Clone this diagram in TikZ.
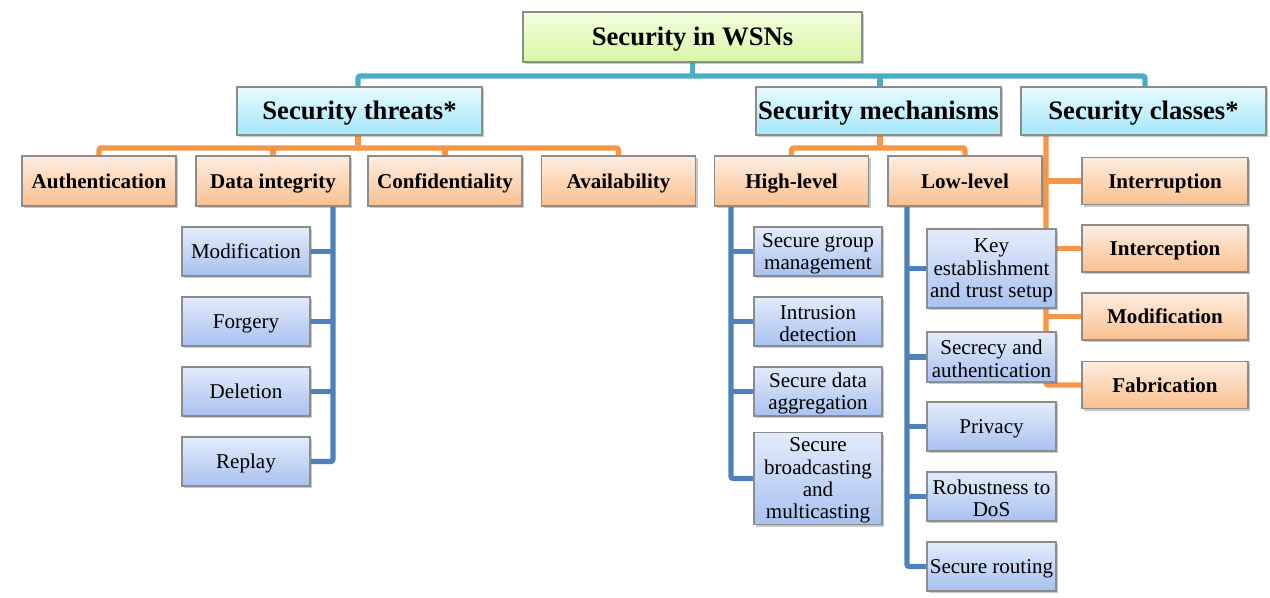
\documentclass[tikz,border=0pt]{standalone}
\usepackage{fontspec}
\setmainfont{Liberation Serif}
\usetikzlibrary{shadows,backgrounds}
\definecolor{busteal}{HTML}{4BACC6}
\definecolor{busorange}{HTML}{F79646}
\definecolor{busblue}{HTML}{4F81BD}
\definecolor{rootT}{HTML}{F3FFDD}
\definecolor{rootB}{HTML}{D8F6A6}
\definecolor{cyanT}{HTML}{E8FBFF}
\definecolor{cyanB}{HTML}{A4E7FA}
\definecolor{orT}{HTML}{FEEDE0}
\definecolor{orB}{HTML}{FAC08F}
\definecolor{blT}{HTML}{E3ECFB}
\definecolor{blB}{HTML}{A8C1F0}
\definecolor{edgegray}{HTML}{8C8C8C}
\newcommand\tstrut{\rule{0pt}{13.5pt}}
\tikzset{
  basebox/.style={draw=edgegray, line width=0.8pt, inner sep=1pt, align=center,
    drop shadow={shadow xshift=1.6pt, shadow yshift=-1.8pt, opacity=0.35, fill=black!60}},
  rootbox/.style={basebox, top color=rootT, bottom color=rootB,
    font=\fontsize{20}{22}\selectfont\bfseries, text height=15pt, text depth=2.5pt},
  lvlbox/.style={basebox, top color=cyanT, bottom color=cyanB,
    font=\fontsize{20}{22}\selectfont\bfseries, text height=15pt, text depth=2.5pt},
  orbox/.style={basebox, top color=orT, bottom color=orB,
    font=\fontsize{15.8}{18}\selectfont\bfseries, text height=12pt, text depth=1.5pt},
  blbox/.style={basebox, top color=blT, bottom color=blB,
    font=\fontsize{15.8}{16.8}\selectfont},
  oneline/.style={text height=12pt, text depth=1.5pt},
  tealline/.style={draw=busteal, line width=3.8pt, rounded corners=1.5pt},
  orline/.style={draw=busorange, line width=3.8pt, rounded corners=1.5pt},
  blline/.style={draw=busblue, line width=3.8pt, rounded corners=1.5pt}
}
\begin{document}
\begin{tikzpicture}[x=0.75pt,y=-0.75pt]
\useasboundingbox (0,0) rectangle (1270,597);

% level 0 and 1
\node[rootbox, minimum width=339*0.75pt, minimum height=50*0.75pt] (root) at (692.5,37) {Security in WSNs};
\node[lvlbox, minimum width=245*0.75pt, minimum height=48*0.75pt] (threats) at (359.5,111) {Security threats*};
\node[lvlbox, minimum width=245*0.75pt, minimum height=48*0.75pt] (mech) at (878.5,111) {Security mechanisms};
\node[lvlbox, minimum width=245*0.75pt, minimum height=48*0.75pt] (classes) at (1143.5,111) {Security classes*};

% level 2
\tikzset{orsize/.style={minimum width=154*0.75pt, minimum height=50*0.75pt}}
\node[orbox, orsize] (auth) at (99,181) {Authentication};
\node[orbox, orsize] (dint) at (273,181) {Data integrity};
\node[orbox, orsize] (conf) at (445,181) {Confidentiality};
\node[orbox, orsize] (avail) at (618.5,181) {Availability};
\node[orbox, orsize] (high) at (791.5,181) {High-level};
\node[orbox, orsize] (low) at (965,181) {Low-level};

\tikzset{clsize/.style={minimum width=166*0.75pt, minimum height=47*0.75pt}}
\node[orbox, clsize] (interr) at (1165,181) {Interruption};
\node[orbox, clsize] (intercp) at (1165,248.5) {Interception};
\node[orbox, clsize] (modc) at (1165,316.5) {Modification};
\node[orbox, clsize] (fabr) at (1165,385) {Fabrication};

% data integrity children
\tikzset{dsize/.style={minimum width=128*0.75pt, minimum height=49*0.75pt}}
\node[blbox, dsize, oneline] (mod) at (246,251.5) {Modification};
\node[blbox, dsize, oneline] (forg) at (246,321.5) {Forgery};
\node[blbox, dsize, oneline] (del) at (246,391.5) {Deletion};
\node[blbox, dsize, oneline] (rep) at (246,461.5) {Replay};

% high-level children
\node[blbox, dsize] (sgm) at (818,251.5) {\tstrut Secure group\\management};
\node[blbox, dsize] (ids) at (818,321.5) {\tstrut Intrusion\\detection};
\node[blbox, dsize] (sda) at (818,391.5) {\tstrut Secure data\\aggregation};
\node[blbox, minimum width=128*0.75pt, minimum height=83*0.75pt] (sbm) at (818,478.5) {\tstrut Secure\\broadcasting\\and\\multicasting};

% low-level children
\tikzset{lsize/.style={minimum width=129*0.75pt, minimum height=49*0.75pt}}
\node[blbox, minimum width=129*0.75pt, minimum height=79*0.75pt] (key) at (991.5,268.5) {\tstrut Key\\establishment\\and trust setup};
\node[blbox, lsize, minimum height=50*0.75pt] (secr) at (991.5,357) {\tstrut Secrecy and\\authentication};
\node[blbox, lsize, oneline] (priv) at (991.5,426.5) {Privacy};
\node[blbox, lsize] (dos) at (991.5,496.5) {\tstrut Robustness to\\DoS};
\node[blbox, lsize, oneline] (srout) at (991.5,566.5) {Secure routing};

% connectors
\begin{scope}[on background layer]
\fill[white] (0,0) rectangle (1270,597);
\coordinate (tbus) at (0,76);
\coordinate (obus) at (0,148);
\coordinate (tdrop) at (358,0);
\coordinate (mdrop) at (880,0);
\coordinate (cdrop) at (1145,0);
\path[tealline] (tdrop |- threats.north) -- (tdrop |- tbus) -- (cdrop |- tbus) -- (cdrop |- classes.north);
\path[tealline] (root.south) -- (root.south |- tbus);
\path[tealline] (mdrop |- tbus) -- (mdrop |- mech.north);

\path[orline] (auth.north) -- (auth.north |- obus) -- (avail.north |- obus) -- (avail.north);
\path[orline] (tdrop |- threats.south) -- (tdrop |- obus);
\path[orline] (dint.north) -- (dint.north |- obus);
\path[orline] (conf.north) -- (conf.north |- obus);

\path[orline] (high.north) -- (high.north |- obus) -- (low.north |- obus) -- (low.north);
\path[orline] (mdrop |- mech.south) -- (mdrop |- obus);

\coordinate (cv) at (1046,0);
\path[orline] (cv |- classes.south) -- (cv |- fabr.west) -- (fabr.west);
\path[orline] (cv |- interr.west) -- (interr.west);
\path[orline] (cv |- intercp.west) -- (intercp.west);
\path[orline] (cv |- modc.west) -- (modc.west);

\coordinate (dv) at (333,0);
\path[blline] (dv |- dint.south) -- (dv |- rep.east) -- (rep.east);
\path[blline] (mod.east) -- (mod.east -| dv);
\path[blline] (forg.east) -- (forg.east -| dv);
\path[blline] (del.east) -- (del.east -| dv);

\coordinate (hv) at (731,0);
\path[blline] (hv |- high.south) -- (hv |- sbm.west) -- (sbm.west);
\path[blline] (sgm.west) -- (sgm.west -| hv);
\path[blline] (ids.west) -- (ids.west -| hv);
\path[blline] (sda.west) -- (sda.west -| hv);

\coordinate (lv) at (907,0);
\path[blline] (lv |- low.south) -- (lv |- srout.west) -- (srout.west);
\path[blline] (key.west) -- (key.west -| lv);
\path[blline] (secr.west) -- (secr.west -| lv);
\path[blline] (priv.west) -- (priv.west -| lv);
\path[blline] (dos.west) -- (dos.west -| lv);
\end{scope}
\end{tikzpicture}
\end{document}
